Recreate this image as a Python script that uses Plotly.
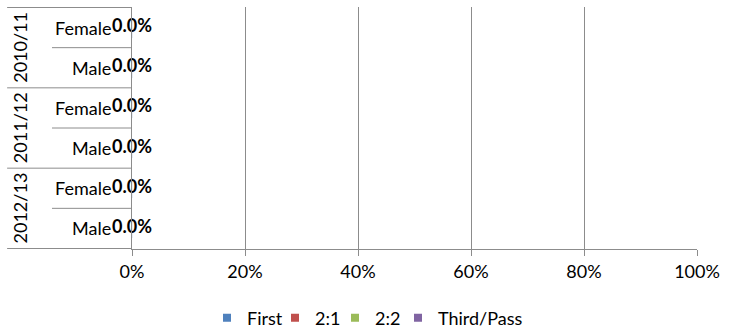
import plotly.graph_objects as go

# Degree classification shares by academic year and gender
years = ["2010/11", "2011/12", "2012/13"]
genders = ["Female", "Male"]
series_names = ["First", "2:1", "2:2", "Third/Pass"]
series_colors = ["#4F81BD", "#C0504D", "#9BBB59", "#8064A2"]

first = [0.0, 0.0, 0.0, 0.0, 0.0, 0.0]
upper_second = [0.0, 0.0, 0.0, 0.0, 0.0, 0.0]
lower_second = [0.0, 0.0, 0.0, 0.0, 0.0, 0.0]
third_pass = [0.0, 0.0, 0.0, 0.0, 0.0, 0.0]

x_ticks = [0, 0.2, 0.4, 0.6, 0.8, 1.0]
x_tick_labels = ["0%", "20%", "40%", "60%", "80%", "100%"]

FONT = "Lato"
TEXT_COLOR = "#000000"
LINE_COLOR = "#8C8C8C"
FS = 18
W, H = 742, 332

rows = [f"{y} {g}" for y in years for g in genders]
series_values = [first, upper_second, lower_second, third_pass]

# one legend box per key so the keys sit compactly in a centred row
legend_left_px = [207, 275, 335, 398]

fig = go.Figure()

legend_layouts = {}
for i, (name, color, vals) in enumerate(zip(series_names, series_colors, series_values)):
    fig.add_trace(go.Bar(
        x=vals, y=rows, orientation="h", name=name,
        marker=dict(color=color), showlegend=False,
    ))
    lg = "legend" if i == 0 else f"legend{i + 1}"
    # square legend key
    fig.add_trace(go.Scatter(
        x=[None], y=[None], mode="markers", name=name, legend=lg,
        marker=dict(symbol="square", size=8, color=color),
    ))
    legend_layouts[lg] = dict(
        orientation="h", xref="container", yref="container",
        x=legend_left_px[i] / W, xanchor="left",
        y=1 - 318 / H, yanchor="middle",
        font=dict(family=FONT, size=FS, color=TEXT_COLOR),
        itemwidth=30, bgcolor="rgba(0,0,0,0)", borderwidth=0,
    )

# data labels at the end of the stacked bars
totals = [sum(v) for v in zip(*series_values)]
fig.add_trace(go.Scatter(
    x=totals, y=rows, mode="text",
    text=[f"{v:.1%}" for v in first],
    textposition="middle center",
    textfont=dict(family=FONT, size=FS, color=TEXT_COLOR, weight="bold"),
    showlegend=False, hoverinfo="skip", cliponaxis=False,
))

# category labels: gender next to the axis, year rotated on the far left
left_full = -0.221
left_inner = -0.1416
annotations = []
for i, r in enumerate(rows):
    annotations.append(dict(
        x=-0.034, xref="paper", y=r, yref="y", text=r.split(" ")[1],
        showarrow=False, xanchor="right", yanchor="middle",
        font=dict(family=FONT, size=FS, color=TEXT_COLOR),
    ))
for gi, yr in enumerate(years):
    annotations.append(dict(
        x=-0.198, xref="paper", y=gi * len(genders) + 0.5, yref="y",
        text=yr, textangle=-90, showarrow=False,
        xanchor="center", yanchor="middle",
        font=dict(family=FONT, size=FS, color=TEXT_COLOR),
    ))

# divider lines of the two-level category axis
shapes = []
n = len(rows)
for k in range(n + 1):
    yb = k - 0.5
    x0 = left_full if k % len(genders) == 0 else left_inner
    shapes.append(dict(
        type="line", xref="paper", yref="y", x0=x0, x1=0, y0=yb, y1=yb,
        line=dict(color=LINE_COLOR, width=1),
    ))

fig.update_layout(
    width=W, height=H,
    margin=dict(l=132, r=45, t=7, b=83),
    paper_bgcolor="white", plot_bgcolor="white",
    barmode="stack", bargap=0.5,
    font=dict(family=FONT, size=FS, color=TEXT_COLOR),
    annotations=annotations, shapes=shapes,
    xaxis=dict(
        range=[0, 1], tickvals=x_ticks, ticktext=x_tick_labels,
        showgrid=True, gridcolor=LINE_COLOR, gridwidth=1,
        showline=True, linecolor=LINE_COLOR, linewidth=1,
        ticks="outside", ticklen=6, tickcolor=LINE_COLOR,
        zeroline=False, fixedrange=True,
        tickfont=dict(family=FONT, size=FS, color=TEXT_COLOR),
    ),
    yaxis=dict(
        type="category", categoryorder="array", categoryarray=rows,
        autorange="reversed", showticklabels=False,
        showgrid=False, showline=True, linecolor=LINE_COLOR, linewidth=1,
        ticks="", zeroline=False, fixedrange=True,
    ),
    **legend_layouts,
)

fig.write_html("out.html")
